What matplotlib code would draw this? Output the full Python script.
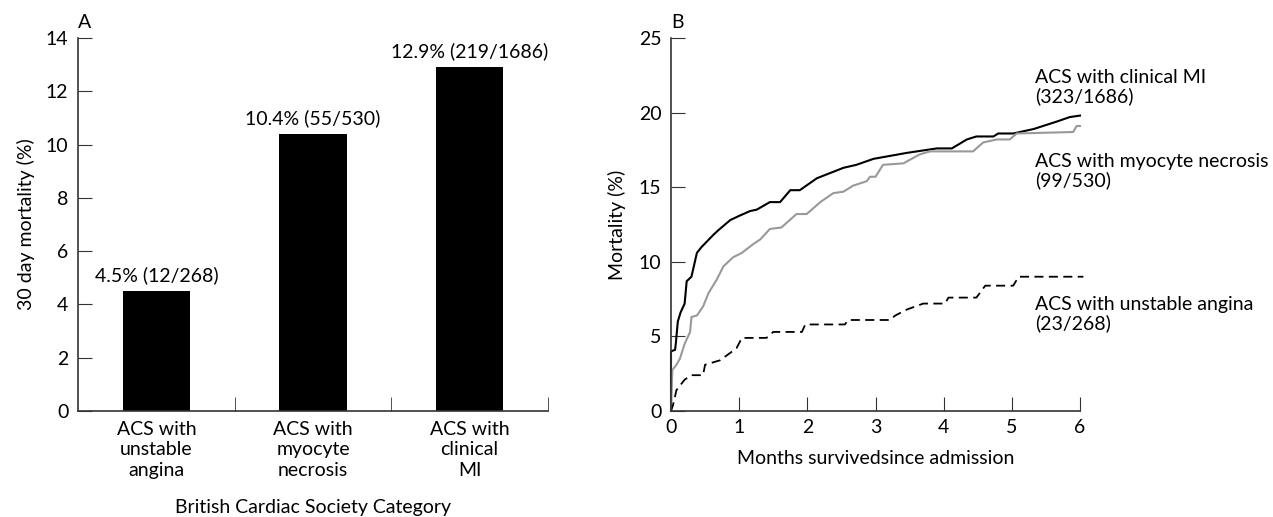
import matplotlib
matplotlib.use("Agg")
import matplotlib.pyplot as plt

plt.rcParams['font.family'] = ['Lato', 'DejaVu Sans']

# =========================
# DATA
# =========================

categories = ["ACS with\nunstable\nangina", "ACS with\nmyocyte\nnecrosis", "ACS with\nclinical\nMI"]
mortality_30d = [4.5, 10.4, 12.9]
bar_labels = ["4.5% (12/268)", "10.4% (55/530)", "12.9% (219/1686)"]

# Kaplan-Meier style curves (months, % mortality)
mi_t = [0, 0, 0.06, 0.07, 0.1, 0.14, 0.2, 0.23, 0.3, 0.38, 0.45, 0.62, 0.69, 0.87, 1.01,
        1.16, 1.26, 1.45, 1.6, 1.75, 1.89, 2.14, 2.53, 2.72, 2.97, 3.46, 3.9, 4.12, 4.34,
        4.48, 4.73, 4.8, 5.02, 5.32, 5.66, 5.85, 6.0]
mi_v = [0, 4.0, 4.1, 4.5, 6.0, 6.6, 7.2, 8.7, 9.0, 10.6, 11.0, 11.8, 12.1, 12.8, 13.1,
        13.4, 13.5, 14.0, 14.0, 14.8, 14.8, 15.6, 16.3, 16.5, 16.9, 17.3, 17.6, 17.6, 18.2,
        18.4, 18.4, 18.6, 18.6, 18.9, 19.4, 19.7, 19.8]

nec_t = [0, 0.02, 0.08, 0.13, 0.2, 0.28, 0.3, 0.38, 0.47, 0.55, 0.67, 0.77, 0.91, 1.04,
         1.21, 1.31, 1.45, 1.62, 1.84, 1.99, 2.19, 2.38, 2.53, 2.67, 2.87, 2.92, 3.0, 3.11,
         3.41, 3.65, 3.8, 4.43, 4.58, 4.78, 4.97, 5.07, 5.9, 5.95, 6.0]
nec_v = [0, 2.75, 3.1, 3.5, 4.5, 5.3, 6.3, 6.4, 7.0, 7.9, 8.8, 9.7, 10.3, 10.6,
         11.2, 11.5, 12.2, 12.3, 13.2, 13.2, 14.0, 14.6, 14.7, 15.1, 15.4, 15.7, 15.7, 16.5,
         16.6, 17.2, 17.4, 17.4, 18.0, 18.2, 18.2, 18.6, 18.7, 19.1, 19.1]

ua_t = [0, 0.03, 0.08, 0.2, 0.3, 0.47, 0.5, 0.72, 0.96, 1.04, 1.4, 1.5, 1.92, 1.97, 2.55,
        2.6, 3.21, 3.29, 3.46, 3.7, 4.02, 4.07, 4.48, 4.61, 5.02, 5.1, 6.05]
ua_v = [0, 0.4, 1.4, 2.1, 2.4, 2.4, 3.1, 3.4, 4.2, 4.9, 4.9, 5.3, 5.3, 5.8, 5.8,
        6.1, 6.1, 6.4, 6.8, 7.2, 7.2, 7.6, 7.6, 8.4, 8.4, 9.0, 9.0]

curve_labels = ["ACS with clinical MI\n(323/1686)", "ACS with myocyte necrosis\n(99/530)",
                "ACS with unstable angina\n(23/268)"]

# =========================
# FIGURE
# =========================

W, H = 1273, 517
fig = plt.figure(figsize=(W / 100, H / 100), dpi=100)
spine_col = "#333333"
fs = 14

axA = fig.add_axes([78 / W, 1 - 411 / H, (548 - 78) / W, (411 - 38) / H])
axB = fig.add_axes([671 / W, 1 - 411 / H, (1080 - 671) / W, (411 - 38) / H])

# ---- panel A ----
x = range(len(categories))
axA.bar(x, mortality_30d, width=0.43, color="black")
for xi, v, lab in zip(x, mortality_30d, bar_labels):
    axA.text(xi, v + 0.6, lab, ha="center", va="center", fontsize=fs)
axA.set_xlim(-0.5, 2.5)
axA.set_ylim(0, 14)
axA.set_yticks(range(0, 15, 2))
axA.set_xticks(list(x))
axA.set_xticklabels(categories, fontsize=fs, linespacing=1.22)
axA.tick_params(axis="x", length=0, pad=7.5)
axA.set_xticks([0.5, 1.5, 2.5], minor=True)
axA.tick_params(axis="x", which="minor", direction="in", length=10, color=spine_col)
axA.tick_params(axis="y", direction="in", length=10, labelsize=fs, color=spine_col, pad=7)
axA.set_ylabel("30 day mortality (%)", fontsize=fs, labelpad=8)
axA.set_xlabel("British Cardiac Society Category", fontsize=fs, labelpad=15)

# ---- panel B ----
axB.plot(mi_t, mi_v, color="black", lw=1.5, clip_on=False)
axB.plot(nec_t, nec_v, color="#999999", lw=1.5, clip_on=False)
axB.plot(ua_t, ua_v, color="black", lw=1.3, dashes=(5, 3), clip_on=False)
for lab, ypix in zip(curve_labels, [87, 171, 314]):
    fig.text(1035 / W, 1 - ypix / H, lab, fontsize=fs, va="center", linespacing=1.1)
axB.set_xlim(0, 6)
axB.set_ylim(0, 25)
axB.set_xticks(range(0, 7))
axB.set_yticks(range(0, 26, 5))
axB.tick_params(direction="in", length=10, labelsize=fs, color=spine_col)
axB.tick_params(axis="y", pad=7)
axB.tick_params(axis="x", pad=5.5)
axB.set_ylabel("Mortality (%)", fontsize=fs, labelpad=9)
axB.set_xlabel("Months survivedsince admission", fontsize=fs, labelpad=10)

for ax in (axA, axB):
    for s in ("top", "right"):
        ax.spines[s].set_visible(False)
    for s in ("left", "bottom"):
        ax.spines[s].set_color(spine_col)
        ax.spines[s].set_linewidth(1.2)

fig.text(78 / W, 1 - 22 / H, "A", fontsize=fs, va="center")
fig.text(671 / W, 1 - 22 / H, "B", fontsize=fs, va="center")

fig.savefig("out.png", dpi=100)
